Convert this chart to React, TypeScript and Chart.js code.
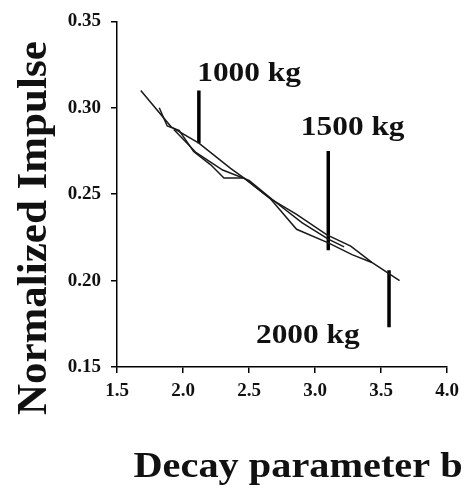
import { useEffect, useRef } from "react";
import { Chart, registerables } from "chart.js";

Chart.register(...registerables);

// ---- data ----
const b1000 = [1.68, 1.91, 2.12, 2.36, 2.46, 2.66, 2.86, 3.09, 3.27, 3.43, 3.64];
const imp1000 = [0.310, 0.289, 0.2795, 0.265, 0.2595, 0.2475, 0.2383, 0.2265, 0.220, 0.2105, 0.200];

const b1500 = [1.82, 1.88, 1.97, 2.08, 2.21, 2.31, 2.46, 2.66, 2.86, 3.10, 3.28, 3.43];
const imp1500 = [0.300, 0.2895, 0.287, 0.2747, 0.267, 0.2594, 0.2594, 0.2475, 0.2297, 0.2218, 0.215, 0.2105];

const b2000 = [1.93, 2.10, 2.30, 2.50, 2.70, 2.90, 3.10, 3.22];
const imp2000 = [0.2875, 0.274, 0.264, 0.258, 0.2455, 0.2335, 0.224, 0.2195];

const markerLabels = ["1000 kg", "1500 kg", "2000 kg"];
const markerB = [2.12, 3.1, 3.56];
const markerTop = [0.31, 0.275, 0.206];
const markerBottom = [0.2795, 0.2175, 0.173];
const labelB = [2.5, 3.285, 2.945];
const labelImpulse = [0.3155, 0.2845, 0.1638];

const xTickValues = [1.5, 2.0, 2.5, 3.0, 3.5, 4.0];
const yTickValues = [0.15, 0.2, 0.25, 0.3, 0.35];
const xTitle = "Decay parameter b";
const yTitle = "Normalized Impulse";

const FONT = '"Liberation Serif", "Times New Roman", serif';

const toPoints = (xs: number[], ys: number[]) => xs.map((x, i) => ({ x, y: ys[i] }));

const overlayPlugin = {
  id: "overlay",
  afterDraw(chart: any) {
    const { ctx, chartArea, scales } = chart;
    const xs = scales.x;
    const ys = scales.y;
    ctx.save();
    ctx.fillStyle = "#111";
    ctx.textAlign = "center";
    ctx.textBaseline = "alphabetic";
    ctx.font = `bold 28px ${FONT}`;
    markerLabels.forEach((t, i) => {
      const px = xs.getPixelForValue(labelB[i]);
      const py = ys.getPixelForValue(labelImpulse[i]);
      ctx.save();
      ctx.translate(px, py);
      ctx.scale(1.12, 1);
      ctx.fillText(t, 0, 0);
      ctx.restore();
    });
    // x title
    ctx.font = `bold 36px ${FONT}`;
    ctx.save();
    ctx.translate((chartArea.left + chartArea.right) / 2 + 16, chartArea.bottom + 110);
    ctx.scale(1.12, 1);
    ctx.fillText(xTitle, 0, 0);
    ctx.restore();
    // y title
    ctx.font = `bold 43px ${FONT}`;
    ctx.save();
    ctx.translate(chartArea.left - 71, (chartArea.top + chartArea.bottom) / 2 + 34);
    ctx.rotate(-Math.PI / 2);
    ctx.fillText(yTitle, 0, 0);
    ctx.restore();
    ctx.restore();
  },
};

export default function App() {
  const ref = useRef<HTMLCanvasElement>(null);
  useEffect(() => {
    if (!ref.current) return;
    const lineStyle = { borderColor: "#1a1a1a", borderWidth: 1.5, pointRadius: 0, tension: 0, fill: false };
    const markerStyle = { borderColor: "#000", borderWidth: 3.5, pointRadius: 0, fill: false };
    const chart = new Chart(ref.current, {
      type: "line",
      data: {
        datasets: [
          { label: "1000 kg", data: toPoints(b1000, imp1000), ...lineStyle },
          { label: "1500 kg", data: toPoints(b1500, imp1500), ...lineStyle },
          { label: "2000 kg", data: toPoints(b2000, imp2000), ...lineStyle },
          ...markerB.map((bv, i) => ({
            label: markerLabels[i] + " marker",
            data: [
              { x: bv, y: markerTop[i] },
              { x: bv, y: markerBottom[i] },
            ],
            ...markerStyle,
          })),
        ],
      },
      options: {
        responsive: false,
        animation: false,
        layout: { padding: { top: 18, right: 15, left: 0, bottom: 0 } },
        plugins: { legend: { display: false }, tooltip: { enabled: false } },
        scales: {
          x: {
            type: "linear",
            min: 1.5,
            max: 4.0,
            afterFit: (s: any) => {
              s.height = 124;
            },
            afterBuildTicks: (s: any) => {
              s.ticks = xTickValues.map((v) => ({ value: v }));
            },
            ticks: {
              color: "#111",
              padding: 7,
              font: { family: FONT, weight: "bold", size: 19 },
              callback: (v: any) => Number(v).toFixed(1),
            },
            grid: { drawOnChartArea: false, drawTicks: true, tickLength: 6, color: "#000", lineWidth: 1.5 },
            border: { display: true, color: "#000", width: 1.5 },
          },
          y: {
            type: "linear",
            min: 0.15,
            max: 0.35,
            afterFit: (s: any) => {
              s.width = 117;
            },
            afterBuildTicks: (s: any) => {
              s.ticks = yTickValues.map((v) => ({ value: v }));
            },
            ticks: {
              color: "#111",
              padding: 10,
              font: { family: FONT, weight: "bold", size: 19 },
              callback: (v: any) => Number(v).toFixed(2),
            },
            grid: { drawOnChartArea: false, drawTicks: true, tickLength: 6, color: "#000", lineWidth: 1.5 },
            border: { display: true, color: "#000", width: 1.5 },
          },
        },
      },
      plugins: [overlayPlugin],
    } as any);
    return () => chart.destroy();
  }, []);
  return (
    <div style={{ position: "fixed", left: 0, top: 0, width: 466, height: 491, background: "#fff" }}>
      <canvas ref={ref} width={466} height={491} style={{ display: "block" }} />
    </div>
  );
}
